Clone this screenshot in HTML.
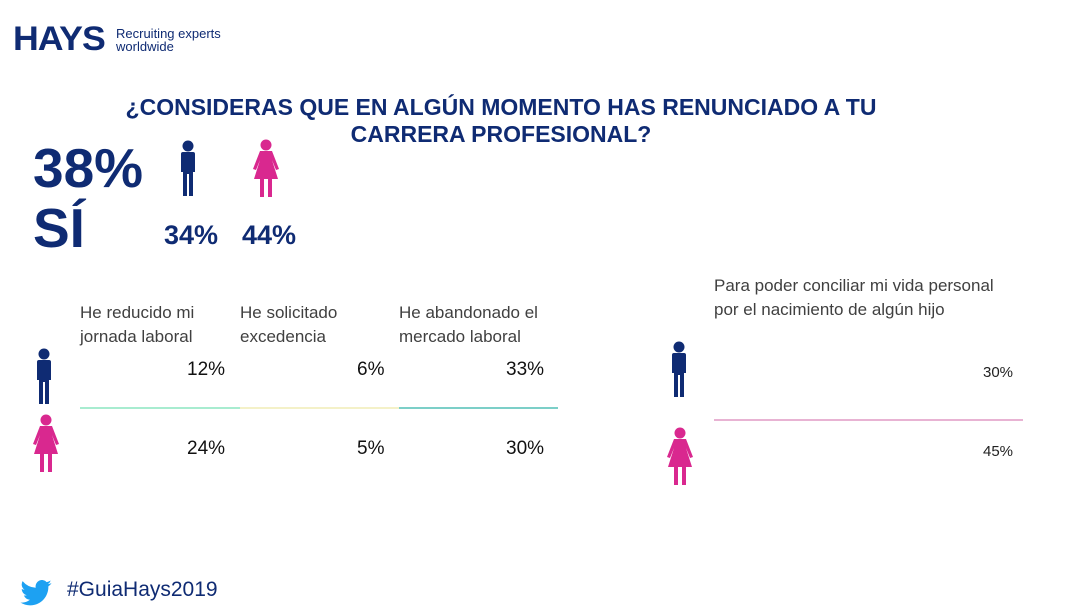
<!DOCTYPE html>
<html><head><meta charset="utf-8"><style>
body{margin:0;width:1065px;height:613px;background:#fff;position:relative;overflow:hidden;font-family:"Liberation Sans",Arial,sans-serif}
.a{position:absolute;white-space:nowrap}
.n{color:#0f2b73;font-weight:bold}
.t{color:#404040;font-size:17px;line-height:24px}
.v{color:#111;font-size:19px}
</style></head><body>
<svg width="0" height="0" style="position:absolute">
<defs>
<g id="man"><circle cx="10" cy="6" r="5.5"/><path d="M3 14 Q3 12 5 12 H15 Q17 12 17 14 V32 H15 V56 H11 V34 H9 V56 H5 V32 H3 Z"/></g>
<g id="wom"><circle cx="14" cy="6" r="5.5"/><path d="M8 12 H20 L27 30 L24 31 L20 21 L26 40 H20 V58 H16 V40 H12 V58 H8 V40 H2 L8 21 L4 31 L1 30 Z"/></g>
</defs></svg>
<div class="a n" style="left:13px;top:20px;font-size:34px;font-weight:900;letter-spacing:-1px;transform:scaleX(1.05);transform-origin:left">HAYS</div>
<div class="a" style="left:116px;top:27px;font-size:13px;line-height:13px;color:#0f2b73">Recruiting experts<br>worldwide</div>
<div class="a n" style="left:111px;top:94px;width:780px;text-align:center;font-size:23px;line-height:27px;white-space:normal">¿CONSIDERAS QUE EN ALGÚN MOMENTO HAS RENUNCIADO A TU CARRERA PROFESIONAL?</div>
<div class="a n" style="left:33px;top:138px;font-size:55px;line-height:60px">38%<br>SÍ</div>
<svg class="a" style="left:178px;top:140px" width="20" height="57" fill="#0f2b73"><use href="#man"/></svg>
<svg class="a" style="left:252px;top:139px" width="28" height="59" fill="#d9288f"><use href="#wom"/></svg>
<div class="a n" style="left:164px;top:220px;font-size:27px">34%</div>
<div class="a n" style="left:242px;top:220px;font-size:27px">44%</div>
<div class="a t" style="left:80px;top:301px">He reducido mi<br>jornada laboral</div>
<div class="a t" style="left:240px;top:301px">He solicitado<br>excedencia</div>
<div class="a t" style="left:399px;top:301px">He abandonado el<br>mercado laboral</div>
<div class="a t" style="left:714px;top:274px">Para poder conciliar mi vida personal<br>por el nacimiento de algún hijo</div>
<svg class="a" style="left:34px;top:348px" width="20" height="57" fill="#0f2b73"><use href="#man"/></svg>
<svg class="a" style="left:32px;top:414px" width="28" height="59" fill="#d9288f"><use href="#wom"/></svg>
<svg class="a" style="left:669px;top:341px" width="20" height="57" fill="#0f2b73"><use href="#man"/></svg>
<svg class="a" style="left:666px;top:427px" width="28" height="59" fill="#d9288f"><use href="#wom"/></svg>
<div class="a" style="left:80px;top:407px;width:160px;height:2px;background:#a8ecd0"></div>
<div class="a" style="left:240px;top:407px;width:159px;height:2px;background:#f4f1c8"></div>
<div class="a" style="left:399px;top:407px;width:159px;height:2px;background:#7ccfc8"></div>
<div class="a" style="left:714px;top:419px;width:309px;height:2px;background:#e8b3d3"></div>
<div class="a v" style="left:187px;top:359px">12%</div>
<div class="a v" style="left:357px;top:359px">6%</div>
<div class="a v" style="left:506px;top:359px">33%</div>
<div class="a v" style="left:187px;top:438px">24%</div>
<div class="a v" style="left:357px;top:438px">5%</div>
<div class="a v" style="left:506px;top:438px">30%</div>
<div class="a" style="left:983px;top:364px;font-size:15px;color:#222">30%</div>
<div class="a" style="left:983px;top:443px;font-size:15px;color:#222">45%</div>
<svg class="a" style="left:20px;top:580px" width="32" height="26" viewBox="0 0 24 20"><path fill="#1da1f2" d="M24 2.4a10 10 0 0 1-2.8.8A5 5 0 0 0 23.3.4a10 10 0 0 1-3.1 1.2A4.9 4.9 0 0 0 11.8 6 14 14 0 0 1 1.7.9a4.9 4.9 0 0 0 1.5 6.6A4.9 4.9 0 0 1 1 6.9a4.9 4.9 0 0 0 3.9 4.8 5 5 0 0 1-2.2.1 4.9 4.9 0 0 0 4.6 3.4A9.9 9.9 0 0 1 0 17.300 14 14 0 0 0 7.5 19.5c9.1 0 14-7.5 14-14v-.6A10 10 0 0 0 24 2.4z"/></svg>
<div class="a" style="left:67px;top:578px;font-size:21px;color:#0f2b73">#GuiaHays2019</div>
</body></html>
